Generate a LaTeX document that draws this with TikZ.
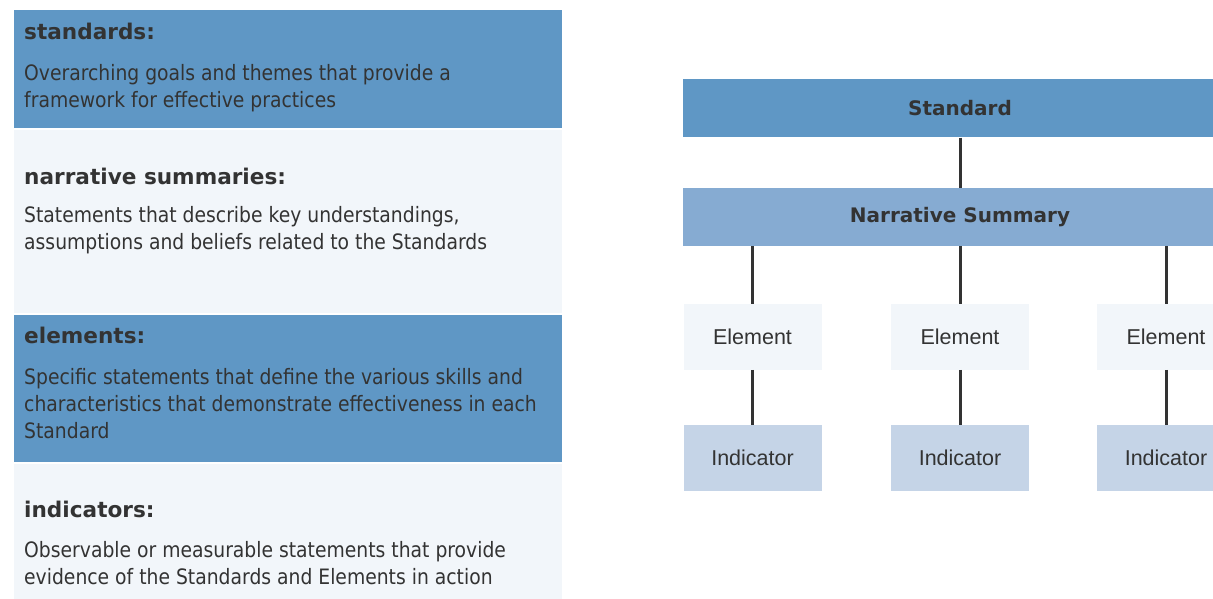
\documentclass[tikz,border=0pt]{standalone}
\usepackage{fontspec}
\setmainfont{DejaVu Sans}
\newfontfamily\bodyfont{DejaVu Sans}[FakeStretch=0.885]
\newfontfamily\labfont{Liberation Sans}
\definecolor{dblue}{HTML}{5F97C5}
\definecolor{mblue}{HTML}{86ABD2}
\definecolor{pale}{HTML}{F2F6FA}
\definecolor{ind}{HTML}{C5D4E7}
\definecolor{txt}{HTML}{333333}
\tikzset{
  ttl/.style={anchor=base west, inner sep=0, text=txt, font=\bfseries\fontsize{21.6}{25}\selectfont},
  body/.style={anchor=base west, inner sep=0, text=txt, font=\bodyfont\fontsize{21.2}{25}\selectfont},
  smallbox/.style={rectangle, draw=none, inner sep=0, minimum width=138pt, minimum height=65.5pt, fill=#1, text=txt, font=\labfont\fontsize{21.5}{25}\selectfont},
  widebox/.style={rectangle, draw=none, inner sep=0, minimum width=554pt, minimum height=58pt, fill=#1, text=txt, font=\bfseries\fontsize{20}{24}\selectfont},
  link/.style={draw=txt, line width=3pt}
}
\begin{document}
\begin{tikzpicture}[x=1pt,y=-1pt]
\useasboundingbox (0,0) rectangle (1213,599);
\clip (0,0) rectangle (1213,599);
% left panels
\fill[dblue] (14,10) rectangle (562,128);
\fill[pale] (14,130) rectangle (562,313);
\fill[dblue] (14,315) rectangle (562,461.5);
\fill[pale] (14,463.5) rectangle (562,599);
\node[ttl] (t1) at (24,40) {standards:};
\node[body] (b1a) at (24,81) {Overarching goals and themes that provide a};
\node[body] (b1b) at (24,107.5) {framework for effective practices};
\node[ttl] (t2) at (24,185) {narrative summaries:};
\node[body] (b2a) at (24,222) {Statements that describe key understandings,};
\node[body] (b2b) at (24,249) {assumptions and beliefs related to the Standards};
\node[ttl] (t3) at (24,343) {elements:};
\node[body] (b3a) at (24,384) {Specific statements that define the various skills and};
\node[body] (b3b) at (24,411) {characteristics that demonstrate effectiveness in each};
\node[body] (b3c) at (24,438) {Standard};
\node[ttl] (t4) at (24,517) {indicators:};
\node[body] (b4a) at (24,557) {Observable or measurable statements that provide};
\node[body] (b4b) at (24,584) {evidence of the Standards and Elements in action};
% right hierarchy
\node[widebox=dblue] (std) at (960,108.5) {Standard};
\node[widebox=mblue] (ns) at (960,217) {Narrative Summary};
\node[smallbox=pale] (e1) at (752.5,336.8) {Element};
\node[smallbox=pale] (e2) at (960,336.8) {Element};
\node[smallbox=pale] (e3) at (1166,336.8) {Element};
\node[smallbox=ind] (i1) at (752.5,457.8) {Indicator};
\node[smallbox=ind] (i2) at (960,457.8) {Indicator};
\node[smallbox=ind] (i3) at (1166,457.8) {Indicator};
\draw[link] (std.south) -- (ns.north);
\draw[link] (e1.north |- ns.south) -- (e1.north);
\draw[link] (e2.north |- ns.south) -- (e2.north);
\draw[link] (e3.north |- ns.south) -- (e3.north);
\draw[link] (e1.south) -- (i1.north);
\draw[link] (e2.south) -- (i2.north);
\draw[link] (e3.south) -- (i3.north);
\end{tikzpicture}
\end{document}
